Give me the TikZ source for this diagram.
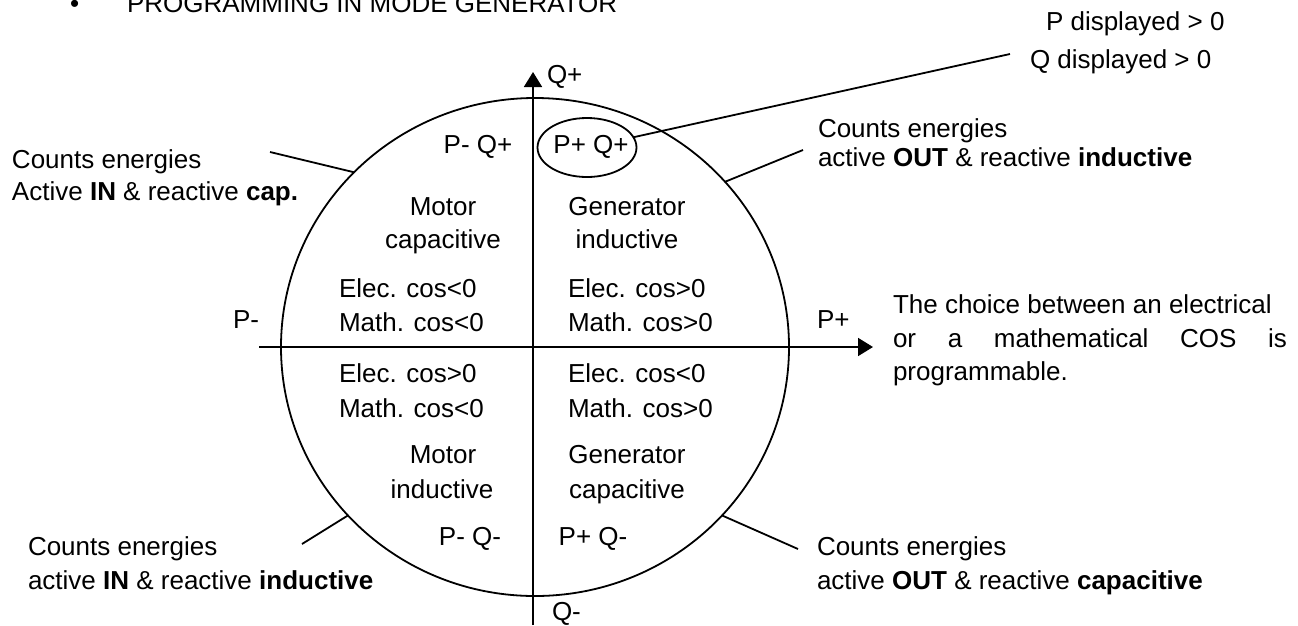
\documentclass[tikz,border=0pt]{standalone}
\usepackage{fontspec}
\setmainfont{Liberation Sans}
\usetikzlibrary{arrows.meta,shapes.geometric}
\begin{document}
\begin{tikzpicture}[x=1pt,y=-1pt,
  every node/.style={inner sep=0pt,outer sep=0pt,font=\fontsize{26}{32}\selectfont},
  lbl/.style={anchor=base west},
  ctr/.style={anchor=base},
  ln/.style={line width=1.8pt},
  axis/.style={ln,-{Triangle[length=15pt,width=18pt]}}]
\useasboundingbox (0,0) rectangle (1298,625);
% header
\node[lbl] (bul) at (70,12) {•};
\node[lbl] (head) at (127,12) {PROGRAMMING IN MODE GENERATOR};
% circle
\node[draw,ln,ellipse,minimum width=508pt,minimum height=498pt] (circ) at (535,347) {};
% axes
\coordinate (hs) at (259,347);
\coordinate (he) at (873,347);
\coordinate (vs) at (533,625);
\coordinate (ve) at (533,72);
\draw[axis] (hs) -- (he);
\draw[axis] (vs) -- (ve);
\node[lbl] (qp) at (547,83) {Q+};
\node[lbl] (qm) at (552,620) {Q-};
\node[lbl] (pm) at (233,328) {P-};
\node[lbl] (pp) at (817,328) {P+};
% quadrant labels
\node[ctr] (pmqp) at (478,153) {P- Q+};
\node[draw,ln,ellipse,minimum width=99pt,minimum height=59pt] (pq) at (587,147.5) {};
\node[ctr] (ppqp) at (591,153) {P+ Q+};
\node[ctr] (m1) at (443,215) {Motor};
\node[ctr] (m2) at (443,248) {capacitive};
\node[ctr] (g1) at (627,215) {Generator};
\node[ctr] (g2) at (627,248) {inductive};
\node[lbl] (e1) at (339,297) {Elec. cos<0};
\node[lbl] (e2) at (339,331) {Math. cos<0};
\node[lbl] (e3) at (568,297) {Elec. cos>0};
\node[lbl] (e4) at (568,331) {Math. cos>0};
\node[lbl] (e5) at (339,382) {Elec. cos>0};
\node[lbl] (e6) at (339,417) {Math. cos<0};
\node[lbl] (e7) at (568,382) {Elec. cos<0};
\node[lbl] (e8) at (568,417) {Math. cos>0};
\node[ctr] (m3) at (443,463) {Motor};
\node[ctr] (m4) at (442,498) {inductive};
\node[ctr] (g3) at (627,463) {Generator};
\node[ctr] (g4) at (627,498) {capacitive};
\node[ctr] (pmqm) at (470,545) {P- Q-};
\node[ctr] (ppqm) at (593,545) {P+ Q-};
% displayed note
\node[lbl] (pd) at (1046,30) {P displayed > 0};
\node[lbl] (qd) at (1030,68) {Q displayed > 0};
\coordinate (qdend) at (1010,54);
\draw[ln] (pq) -- (qdend);
% corner labels
\node[lbl] (lt1) at (12,168) {Counts energies};
\node[lbl] (lt2) at (12,200) {Active \textbf{IN} \& reactive \textbf{cap.}};
\coordinate (ltend) at (270,152);
\draw[ln] (circ.136) -- (ltend);
\node[lbl] (rt1) at (818,137) {Counts energies};
\node[lbl] (rt2) at (818,166) {active \textbf{OUT} \& reactive \textbf{inductive}};
\coordinate (rtend) at (803,150);
\draw[ln] (circ.41) -- (rtend);
\node[lbl] (lb1) at (28,555) {Counts energies};
\node[lbl] (lb2) at (28,589) {active \textbf{IN} \& reactive \textbf{inductive}};
\coordinate (lbend) at (302,544);
\draw[ln] (circ.222) -- (lbend);
\node[lbl] (rb1) at (817,555) {Counts energies};
\node[lbl] (rb2) at (817,589) {active \textbf{OUT} \& reactive \textbf{capacitive}};
\coordinate (rbend) at (798,549);
\draw[ln] (circ.318) -- (rbend);
% choice note
\node[lbl] (c1) at (893,313) {The choice between an electrical};
\node[lbl] (c2) at (893,347) {\makebox[394pt][s]{or a mathematical COS is}};
\node[lbl] (c3) at (893,380) {programmable.};
\end{tikzpicture}
\end{document}
